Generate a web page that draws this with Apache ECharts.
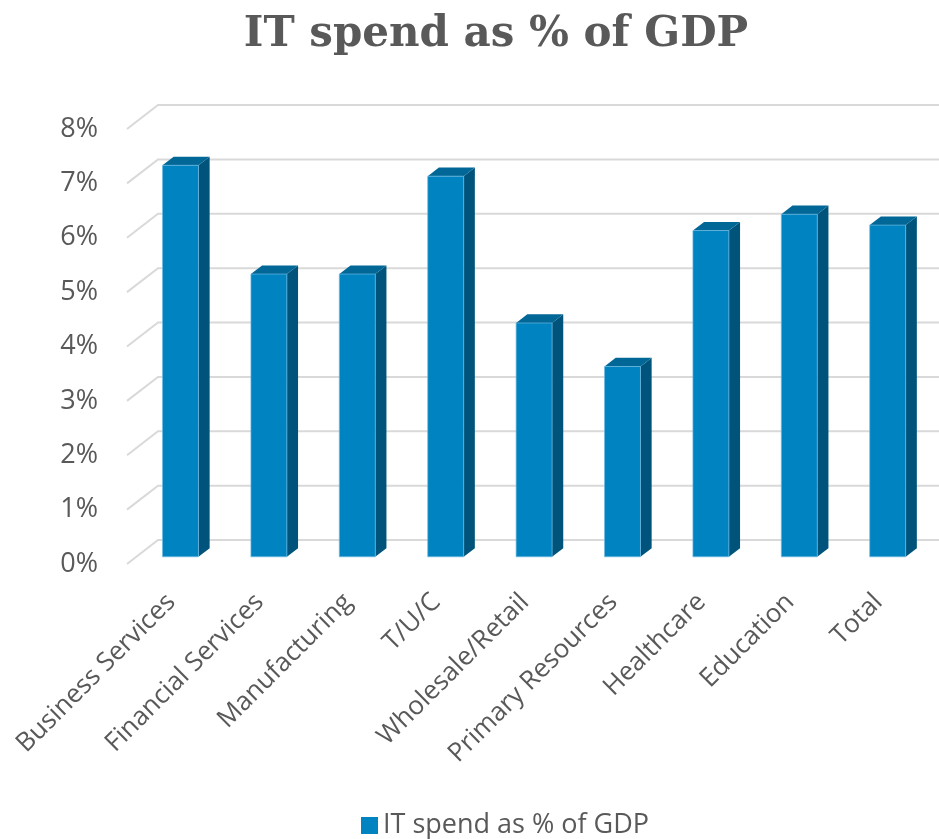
<!DOCTYPE html>
<html>
<head>
<meta charset="utf-8">
<script src="https://cdn.jsdelivr.net/npm/echarts@6/dist/echarts.min.js"></script>
<style>
  html, body { margin: 0; padding: 0; background: #fff; }
  #chart { width: 939px; height: 839px; }
</style>
</head>
<body>
<div id="chart"></div>
<script>
// 數據
const categories = ['Business Services', 'Financial Services', 'Manufacturing', 'T/U/C',
    'Wholesale/Retail', 'Primary Resources', 'Healthcare', 'Education', 'Total'];
const spendValues = [7.2, 5.2, 5.2, 7.0, 4.3, 3.5, 6.0, 6.3, 6.1];
const yTicks = [0, 1, 2, 3, 4, 5, 6, 7, 8];
const seriesName = 'IT spend as % of GDP';

// 3D 外觀設定
const DEPTH = [31, -24];      // 背板相對前板的位移
const BAR_FRONT = 0.3;        // 柱子正面所在的深度比例
const BAR_DEPTH = 0.36;       // 柱子的厚度比例
const BAR_WIDTH = 0.407;      // 柱子寬度佔類目寬的比例
const COLOR_FRONT = '#0084C1';
const COLOR_SIDE = '#00547B';
const COLOR_TOP = '#006797';
const TEXT_COLOR = '#595959';

const chart = echarts.init(document.getElementById('chart'));

// 網格線：前板左端 -> 背板 -> 右邊
function renderGridLine(params, api) {
    const cs = params.coordSys;
    const y = api.coord([0, api.value(1)])[1];
    return {
        type: 'polyline',
        shape: {
            points: [
                [cs.x, y],
                [cs.x + DEPTH[0], y + DEPTH[1]],
                [cs.x + cs.width + DEPTH[0] + 20, y + DEPTH[1]]
            ]
        },
        style: { stroke: '#D9D9D9', lineWidth: 2, fill: null }
    };
}

// 立體柱
function renderBar(params, api) {
    const idx = api.value(0);
    const base = api.coord([idx, 0]);
    const top = api.coord([idx, api.value(1)]);
    const band = api.size([1, 0])[0];
    const w = band * BAR_WIDTH;
    const ox = DEPTH[0] * BAR_FRONT, oy = DEPTH[1] * BAR_FRONT;
    const dx = DEPTH[0] * BAR_DEPTH, dy = DEPTH[1] * BAR_DEPTH;
    const x0 = base[0] + ox - w / 2, x1 = base[0] + ox + w / 2;
    const yb = base[1] + oy, yt = top[1] + oy;
    return {
        type: 'group',
        children: [
            {
                type: 'polygon',
                shape: { points: [[x1, yb], [x1 + dx, yb + dy], [x1 + dx, yt + dy], [x1, yt]] },
                style: { fill: COLOR_SIDE }
            },
            {
                type: 'polygon',
                shape: { points: [[x0, yt], [x1, yt], [x1 + dx, yt + dy], [x0 + dx, yt + dy]] },
                style: { fill: COLOR_TOP }
            },
            {
                type: 'rect',
                shape: { x: x0, y: yt, width: w, height: yb - yt },
                style: { fill: COLOR_FRONT, stroke: 'rgba(110,185,225,0.7)', lineWidth: 1 }
            }
        ]
    };
}

chart.setOption({
    animation: false,
    title: {
        text: 'IT spend as % of GDP',
        left: 491,
        textAlign: 'center',
        top: 9,
        textStyle: { fontFamily: 'DejaVu Serif', fontWeight: 'bold', fontSize: 42, color: TEXT_COLOR }
    },
    legend: {
        data: [{ name: seriesName, icon: 'rect' }],
        left: 356,
        top: 807,
        itemWidth: 17,
        itemHeight: 17,
        itemGap: 6,
        textStyle: { fontFamily: 'Open Sans', fontSize: 27, color: TEXT_COLOR }
    },
    grid: { left: 127, top: 129, bottom: 275, right: 16.4 },
    xAxis: {
        type: 'category',
        data: categories,
        axisLine: { show: false },
        axisTick: { show: false },
        axisLabel: {
            rotate: 45,
            interval: 0,
            margin: 34,
            fontFamily: 'Open Sans',
            fontSize: 26,
            color: TEXT_COLOR
        }
    },
    yAxis: {
        type: 'value',
        min: 0,
        max: 8,
        interval: 1,
        axisLine: { show: false },
        axisTick: { show: false },
        splitLine: { show: false },
        axisLabel: {
            formatter: '{value}%',
            margin: 29,
            fontFamily: 'Open Sans',
            fontSize: 27,
            color: TEXT_COLOR
        }
    },
    series: [
        {
            name: 'grid',
            type: 'custom',
            renderItem: renderGridLine,
            data: yTicks.map(v => [0, v]),
            silent: true,
            z: 1
        },
        {
            name: seriesName,
            type: 'custom',
            renderItem: renderBar,
            itemStyle: { color: COLOR_FRONT },
            data: spendValues.map((v, i) => [i, v]),
            z: 2
        }
    ]
});
</script>
</body>
</html>
